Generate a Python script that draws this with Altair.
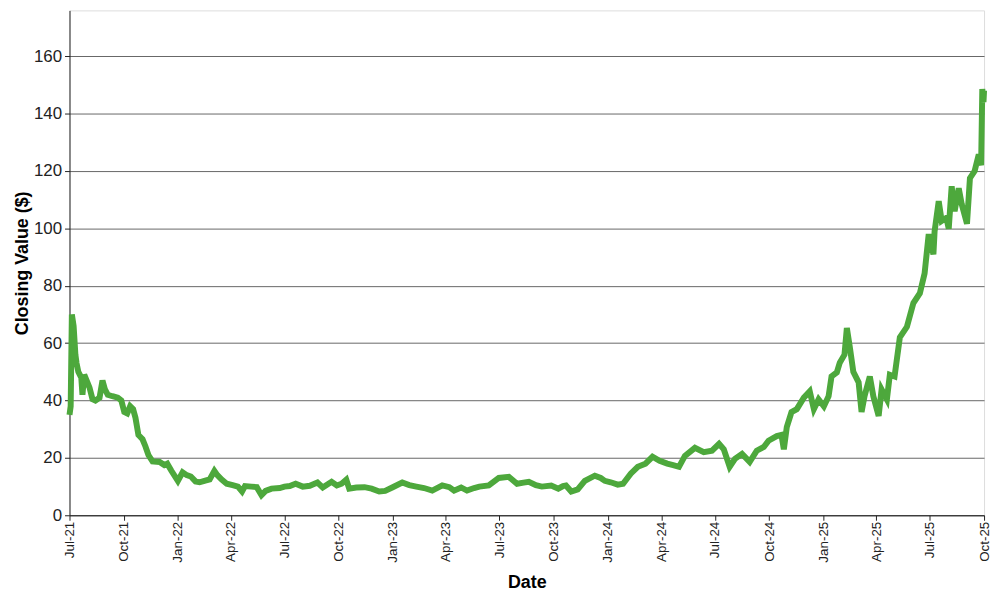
import altair as alt
import pandas as pd

dates = [
    "2021-07-01", "2021-07-03", "2021-07-05", "2021-07-08", "2021-07-11", "2021-07-13", "2021-07-16",
    "2021-07-21", "2021-07-23", "2021-07-26", "2021-07-30", "2021-08-04", "2021-08-09", "2021-08-14",
    "2021-08-21", "2021-08-26", "2021-08-30", "2021-09-04", "2021-09-12", "2021-09-21", "2021-09-27",
    "2021-10-02", "2021-10-07", "2021-10-12", "2021-10-17", "2021-10-21", "2021-10-26", "2021-11-02",
    "2021-11-07", "2021-11-12", "2021-11-19", "2021-12-01", "2021-12-09", "2021-12-14", "2021-12-21",
    "2022-01-01", "2022-01-09", "2022-01-16", "2022-01-23", "2022-01-31", "2022-02-07", "2022-02-15",
    "2022-02-24", "2022-03-04", "2022-03-09", "2022-03-16", "2022-03-25", "2022-04-04", "2022-04-13",
    "2022-04-20", "2022-04-25", "2022-05-06", "2022-05-15", "2022-05-23", "2022-05-30", "2022-06-09",
    "2022-06-23", "2022-07-01", "2022-07-10", "2022-07-20", "2022-08-01", "2022-08-13", "2022-08-26",
    "2022-09-04", "2022-09-19", "2022-09-28", "2022-10-06", "2022-10-14", "2022-10-19", "2022-10-31",
    "2022-11-14", "2022-11-26", "2022-12-09", "2022-12-19", "2022-12-31", "2023-01-17", "2023-01-29",
    "2023-02-10", "2023-02-23", "2023-03-09", "2023-03-26", "2023-04-07", "2023-04-15", "2023-04-27",
    "2023-05-07", "2023-05-19", "2023-05-28", "2023-06-13", "2023-06-30", "2023-07-17", "2023-07-31",
    "2023-08-11", "2023-08-20", "2023-09-01", "2023-09-11", "2023-09-27", "2023-10-09", "2023-10-17",
    "2023-10-22", "2023-10-31", "2023-11-11", "2023-11-23", "2023-12-10", "2023-12-20", "2023-12-27",
    "2024-01-06", "2024-01-18", "2024-01-27", "2024-02-09", "2024-02-21", "2024-03-05", "2024-03-17",
    "2024-03-29", "2024-04-11", "2024-04-21", "2024-05-01", "2024-05-11", "2024-05-28", "2024-06-12",
    "2024-06-26", "2024-07-08", "2024-07-16", "2024-07-26", "2024-08-04", "2024-08-16", "2024-08-29",
    "2024-09-10", "2024-09-22", "2024-09-30", "2024-10-14", "2024-10-22", "2024-10-26", "2024-10-31",
    "2024-11-08", "2024-11-17", "2024-11-29", "2024-12-09", "2024-12-16", "2024-12-24", "2025-01-02",
    "2025-01-10", "2025-01-15", "2025-01-24", "2025-01-29", "2025-02-06", "2025-02-10", "2025-02-15",
    "2025-02-21", "2025-03-02", "2025-03-07", "2025-03-12", "2025-03-21", "2025-03-27", "2025-04-05",
    "2025-04-10", "2025-04-19", "2025-04-24", "2025-05-02", "2025-05-11", "2025-05-23", "2025-06-03",
    "2025-06-14", "2025-06-22", "2025-06-29", "2025-07-07", "2025-07-09", "2025-07-16", "2025-07-21",
    "2025-07-29", "2025-08-02", "2025-08-07", "2025-08-12", "2025-08-19", "2025-08-24", "2025-09-02",
    "2025-09-07", "2025-09-15", "2025-09-22", "2025-09-26", "2025-09-28", "2025-09-30", "2025-10-01",
]

closing = [
    35, 38, 70, 66, 56, 53, 50,
    48, 42, 49, 47, 44.5, 40.5, 40,
    41, 47, 44, 42, 41.5, 41, 40,
    36, 35.5, 38, 37, 34, 28, 26.5,
    24, 21, 18.8, 18.6, 17.5, 18, 15.5,
    12, 15, 14, 13.5, 11.8, 11.5, 12,
    12.5, 15.5, 14, 12.5, 11, 10.5, 10,
    8.3, 10.2, 10, 9.8, 7, 8.5, 9.3,
    9.5, 10, 10.2, 11, 10, 10.3, 11.4,
    9.7, 11.7, 10.4, 11, 12.4, 9.3, 9.7,
    9.8, 9.3, 8.3, 8.5, 9.7, 11.4, 10.5,
    10, 9.5, 8.6, 10.4, 9.8, 8.6, 9.7,
    8.6, 9.5, 10, 10.4, 13, 13.4, 11,
    11.4, 11.7, 10.5, 10, 10.4, 9.3, 10.2,
    10.4, 8.3, 9, 12, 13.8, 13, 12,
    11.5, 10.7, 11, 14.5, 16.9, 18, 20.4,
    19, 18, 17.5, 16.9, 20.7, 23.5, 22,
    22.5, 24.9, 23, 16.9, 19.7, 21.4, 18.6,
    22.5, 23.8, 26, 27.6, 28, 23, 30.7,
    36, 37, 41, 43.2, 37, 40.4, 38,
    41.5, 48.4, 49.8, 53.2, 56, 65.3, 58.7,
    50, 46.3, 36, 41.5, 48.4, 41.5, 34.6,
    43.9, 40.4, 49, 48.4, 62, 65.7, 74,
    77.4, 84.3, 98, 91, 99, 109.5, 102.6,
    103.7, 99.9, 114.7, 106, 114, 108.5, 101.6,
    117.5, 120, 125.8, 122, 148.6, 144, 148,
]

tick_dates = [
    (2021, 7), (2021, 10), (2022, 1), (2022, 4), (2022, 7), (2022, 10),
    (2023, 1), (2023, 4), (2023, 7), (2023, 10), (2024, 1), (2024, 4),
    (2024, 7), (2024, 10), (2025, 1), (2025, 4), (2025, 7), (2025, 10),
]
y_ticks = [0, 20, 40, 60, 80, 100, 120, 140, 160]

df = pd.DataFrame({"date": dates, "close": closing})

FONT = "Liberation Sans"

chart = (
    alt.Chart(df)
    .mark_line(color="#4DA83C", strokeWidth=6, strokeJoin="miter", strokeCap="butt")
    .encode(
        x=alt.X(
            "date:T",
            title="Date",
            scale=alt.Scale(
                type="utc",
                domain=[
                    alt.DateTime(year=2021, month=7, date=1, utc=True),
                    alt.DateTime(year=2025, month=10, date=1, utc=True),
                ],
                nice=False,
            ),
            axis=alt.Axis(
                values=[alt.DateTime(year=y, month=m, date=1, utc=True) for y, m in tick_dates],
                labelExpr="utcFormat(datum.value, '%b-%y')",
                labelAngle=-90,
                labelAlign="right",
                labelBaseline="middle",
                labelFontSize=13.5,
                labelColor="#222222",
                labelFont=FONT,
                labelPadding=1,
                tickSize=5,
                tickColor="#222222",
                domainColor="#222222",
                grid=False,
                titleFont=FONT,
                titleFontSize=18,
                titleFontWeight="bold",
                titleColor="#000000",
                titlePadding=12,
                labelOverlap=False,
                labelBound=False,
                labelFlush=False,
            ),
        ),
        y=alt.Y(
            "close:Q",
            title="Closing Value ($)",
            scale=alt.Scale(domain=[0, 176], nice=False, zero=True),
            axis=alt.Axis(
                values=y_ticks,
                labelFontSize=17,
                labelColor="#222222",
                labelFont=FONT,
                labelPadding=3,
                tickSize=5,
                tickColor="#222222",
                domainColor="#222222",
                grid=True,
                gridColor="#666666",
                gridWidth=1,
                titleFont=FONT,
                titleFontSize=18,
                titleFontWeight="bold",
                titleColor="#000000",
                titlePadding=2,
            ),
        ),
    )
    .properties(
        width=922,
        height=509,
        autosize=alt.AutoSizeParams(type="none"),
        padding={"left": 62, "top": 0, "right": 8, "bottom": 83},
    )
    .configure_view(fill="#EAEAEA", stroke="#222222", strokeWidth=1)
    .configure(background="white")
)

chart.save("out.html", embed_options={"renderer": "svg", "actions": False})
